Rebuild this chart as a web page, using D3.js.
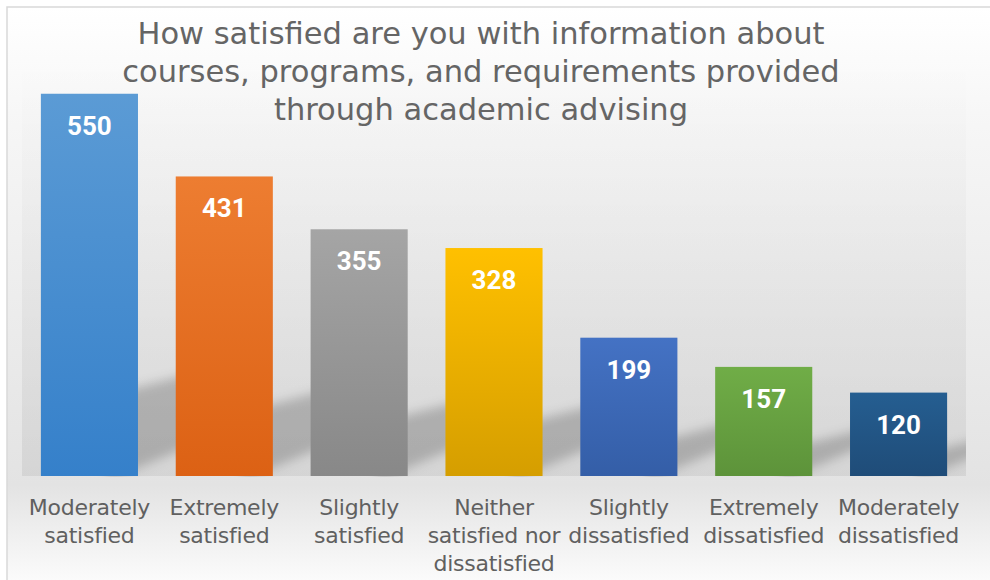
<!DOCTYPE html>
<html>
<head>
<meta charset="utf-8">
<script src="https://cdn.jsdelivr.net/npm/d3@7/dist/d3.min.js"></script>
<style>
  html, body { margin: 0; padding: 0; background: #ffffff; }
  svg { display: block; }
</style>
</head>
<body>
<div id="chart"></div>
<script>
// ---- data ----
const titleLines = [
  "How satisfied are you with information about",
  "courses, programs, and requirements provided",
  "through academic advising"
];
const categories = [
  "Moderately satisfied",
  "Extremely satisfied",
  "Slightly satisfied",
  "Neither satisfied nor dissatisfied",
  "Slightly dissatisfied",
  "Extremely dissatisfied",
  "Moderately dissatisfied"
];
const values = [550, 431, 355, 328, 199, 157, 120];
const yMax = 600;

// ---- styles ----
const topColors    = ["#5b9bd5", "#ed7d31", "#a5a5a5", "#ffc000", "#4472c4", "#70ad47", "#255e91"];
const bottomColors = ["#3580ca", "#dc6114", "#888888", "#d59e00", "#345ea7", "#5d933a", "#1f4c78"];

const W = 990, H = 580;
const plot = { left: 22, right: 966, top: 59, bottom: 476 };

const svg = d3.select("#chart").append("svg").attr("width", W).attr("height", H);
const defs = svg.append("defs");

// chart background gradient
const bg = defs.append("linearGradient").attr("id", "bgGrad")
  .attr("x1", 0).attr("y1", 0).attr("x2", 0).attr("y2", 1);
bg.append("stop").attr("offset", "0%").attr("stop-color", "#ffffff");
bg.append("stop").attr("offset", "20%").attr("stop-color", "#f6f6f6");
bg.append("stop").attr("offset", "81%").attr("stop-color", "#e3e3e3");
bg.append("stop").attr("offset", "100%").attr("stop-color", "#ffffff");

// plot area overlay
const pg = defs.append("linearGradient").attr("id", "plotGrad")
  .attr("x1", 0).attr("y1", 0).attr("x2", 0).attr("y2", 1);
pg.append("stop").attr("offset", "0%").attr("stop-color", "#000").attr("stop-opacity", 0.0);
pg.append("stop").attr("offset", "100%").attr("stop-color", "#000").attr("stop-opacity", 0.065);

// bar gradients
values.forEach((v, i) => {
  const g = defs.append("linearGradient").attr("id", "barGrad" + i)
    .attr("x1", 0).attr("y1", 0).attr("x2", 0).attr("y2", 1);
  g.append("stop").attr("offset", "0%").attr("stop-color", topColors[i]);
  g.append("stop").attr("offset", "100%").attr("stop-color", bottomColors[i]);
});

// shadow blur
defs.append("filter").attr("id", "blur")
  .attr("x", "-50%").attr("y", "-50%").attr("width", "200%").attr("height", "200%")
  .append("feGaussianBlur").attr("stdDeviation", 5.5);

defs.append("clipPath").attr("id", "plotClip")
  .append("rect")
  .attr("x", plot.left).attr("y", 0)
  .attr("width", plot.right - plot.left).attr("height", plot.bottom + 1);

// background + frame
svg.append("rect").attr("x", 7).attr("y", 7).attr("width", W + 10).attr("height", H + 10)
  .attr("fill", "url(#bgGrad)").attr("stroke", "#d9d9d9").attr("stroke-width", 1.5);

svg.append("rect").attr("x", plot.left).attr("y", plot.top)
  .attr("width", plot.right - plot.left).attr("height", plot.bottom - plot.top)
  .attr("fill", "url(#plotGrad)");

// scales
const x = d3.scaleBand().domain(categories).range([plot.left, plot.right])
  .paddingInner(0.28).paddingOuter(0.14);
const y = d3.scaleLinear().domain([0, yMax]).range([plot.bottom, plot.top]);

const data = categories.map((c, i) => ({ c, v: values[i], i }));

// shadows
const shadowG = svg.append("g").attr("clip-path", "url(#plotClip)");
shadowG.selectAll("path").data(data).join("path")
  .attr("d", d => {
    const x1 = x(d.c) + x.bandwidth();
    const yb = y(0);
    const h = yb - y(d.v);
    const top = 0.2 * h + 12;
    const xL = x1 - 30, xR = x1 + 50;
    return d3.line()([
      [xL, yb - 8 + 0.42 * 30],
      [xR, yb - 8 - 0.42 * 50],
      [xR, yb - top - 0.26 * 50],
      [xL, yb - top + 0.26 * 30]
    ]) + "Z";
  })
  .attr("fill", "#000").attr("fill-opacity", 0.2)
  .attr("filter", "url(#blur)");

// bars
svg.append("g").selectAll("rect").data(data).join("rect")
  .attr("x", d => x(d.c))
  .attr("y", d => y(d.v))
  .attr("width", x.bandwidth())
  .attr("height", d => y(0) - y(d.v))
  .attr("fill", d => "url(#barGrad" + d.i + ")");

// data labels
svg.append("g").selectAll("text").data(data).join("text")
  .attr("x", d => x(d.c) + x.bandwidth() / 2)
  .attr("y", d => y(d.v) + 41)
  .attr("text-anchor", "middle")
  .attr("font-family", "Roboto, 'Open Sans', sans-serif")
  .attr("font-weight", 700)
  .attr("font-size", 26)
  .attr("fill", "#ffffff")
  .text(d => d.v);

// x axis labels (wrapped)
const labelFont = "'DejaVu Sans', sans-serif";
const labelSize = 22;
const labelSpacing = -0.25;
const measurer = svg.append("text").attr("font-family", labelFont).attr("font-size", labelSize)
  .attr("letter-spacing", labelSpacing).attr("visibility", "hidden");
function textWidth(s) { measurer.text(s); return measurer.node().getComputedTextLength(); }
function wrap(s, maxW) {
  const words = s.split(" ");
  const lines = [];
  let cur = "";
  words.forEach(w => {
    const t = cur ? cur + " " + w : w;
    if (cur && textWidth(t) > maxW) { lines.push(cur); cur = w; } else cur = t;
  });
  if (cur) lines.push(cur);
  return lines;
}
const xAxisG = svg.append("g");
data.forEach(d => {
  const lines = wrap(d.c, 150);
  const t = xAxisG.append("text")
    .attr("x", x(d.c) + x.bandwidth() / 2)
    .attr("y", 515)
    .attr("text-anchor", "middle")
    .attr("font-family", labelFont)
    .attr("font-size", labelSize)
    .attr("letter-spacing", labelSpacing)
    .attr("fill", "#606060");
  lines.forEach((ln, k) => {
    t.append("tspan").attr("x", x(d.c) + x.bandwidth() / 2).attr("y", 515 + k * 28).text(ln);
  });
});
measurer.remove();

// title
const titleG = svg.append("g");
titleLines.forEach((ln, k) => {
  titleG.append("text")
    .attr("x", 481)
    .attr("y", 43.5 + k * 38.3)
    .attr("text-anchor", "middle")
    .attr("font-family", "'DejaVu Sans', sans-serif")
    .attr("font-size", 30.5)
    .attr("fill", "#656565")
    .text(ln);
});
</script>
</body>
</html>
